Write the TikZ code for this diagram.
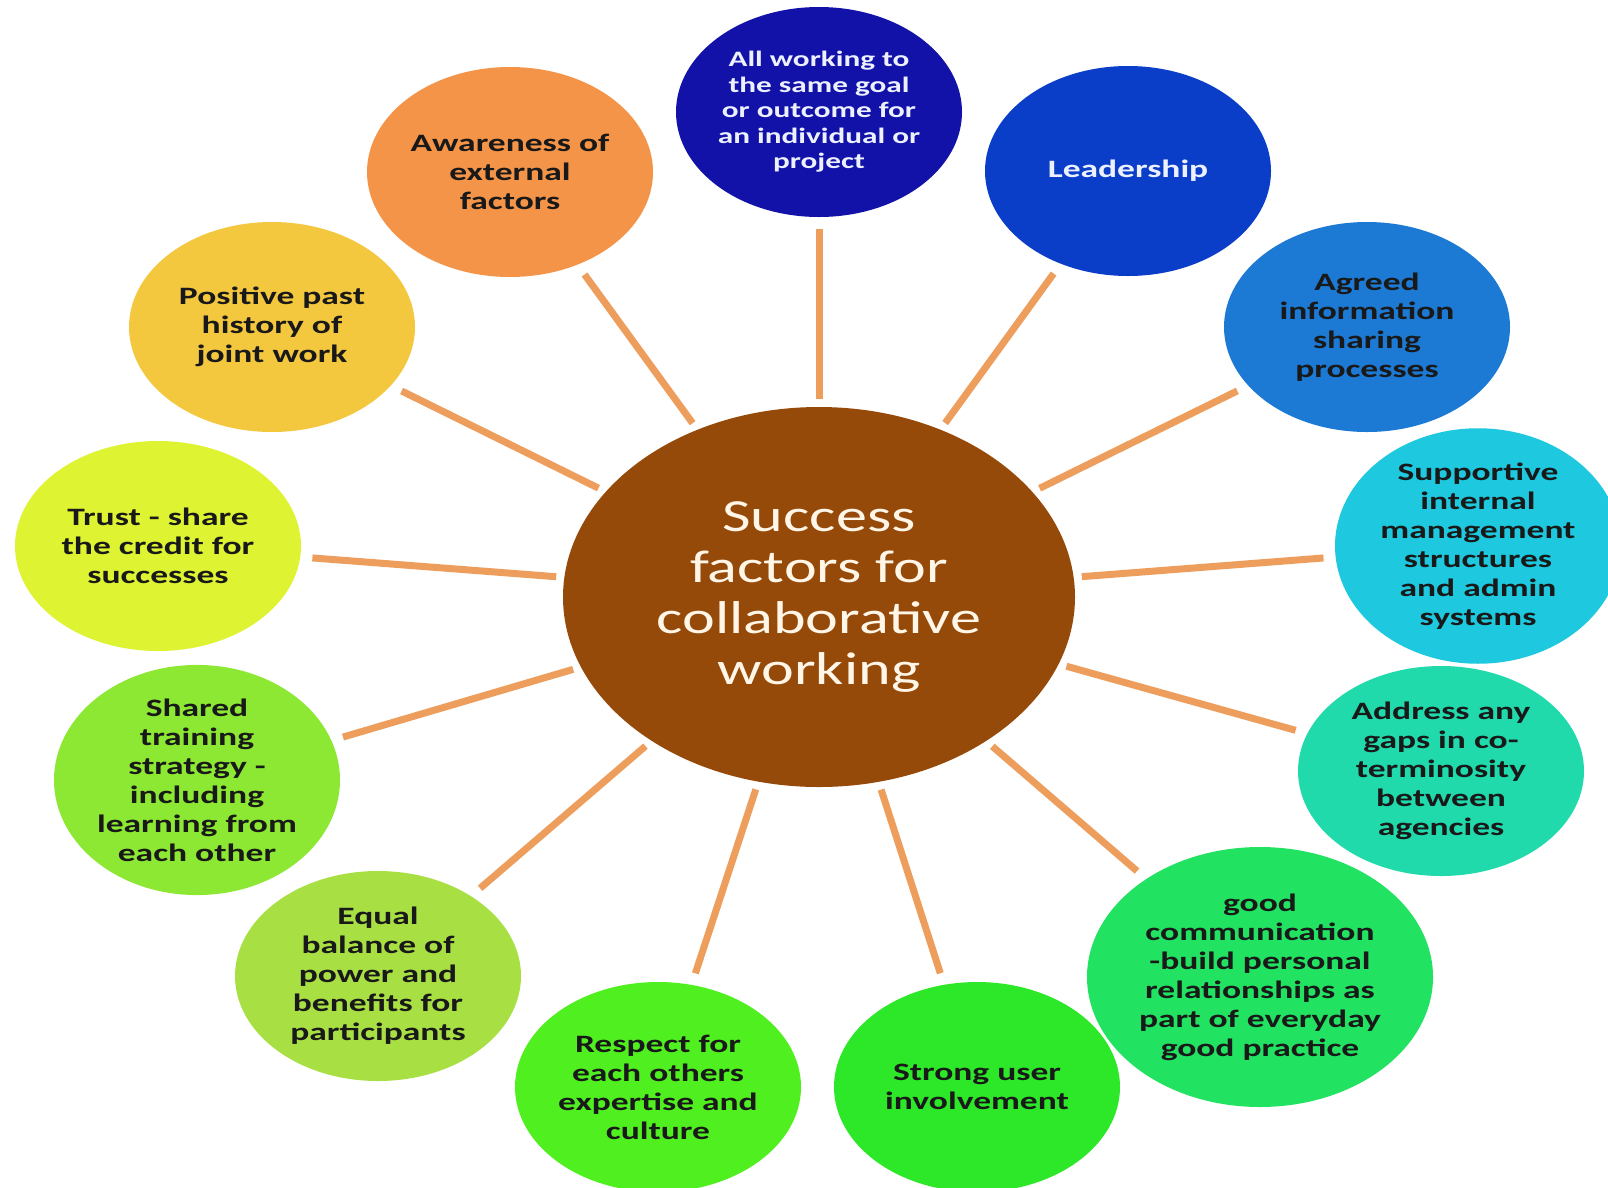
\documentclass[tikz,border=0pt]{standalone}
\usepackage{fontspec}
\setmainfont{Carlito}
\newfontfamily\outerfont{Carlito}[FakeStretch=1.42]
\newfontfamily\hubfont{Carlito}[FakeStretch=1.35]
\usetikzlibrary{shapes.geometric}
\definecolor{cAll}{RGB}{18,18,168}
\definecolor{cLead}{RGB}{10,62,200}
\definecolor{cAgreed}{RGB}{28,122,212}
\definecolor{cSupp}{RGB}{30,200,222}
\definecolor{cAddr}{RGB}{32,218,172}
\definecolor{cGood}{RGB}{34,226,98}
\definecolor{cStrong}{RGB}{44,232,40}
\definecolor{cResp}{RGB}{80,240,32}
\definecolor{cEqual}{RGB}{168,224,68}
\definecolor{cShared}{RGB}{140,232,50}
\definecolor{cTrust}{RGB}{222,244,50}
\definecolor{cPos}{RGB}{244,200,62}
\definecolor{cAware}{RGB}{244,148,72}
\definecolor{hubcol}{RGB}{150,74,10}
\definecolor{hubtext}{RGB}{255,246,232}
\definecolor{spokecol}{RGB}{238,158,92}
\definecolor{txtdark}{RGB}{25,25,25}
\definecolor{txtlight}{RGB}{236,240,255}
\begin{document}
\begin{tikzpicture}[x=1pt,y=-1pt,
  bubble/.style={ellipse, minimum width=286pt, minimum height=210pt, inner sep=0pt,
    align=center, text=txtdark, font=\outerfont\bfseries\fontsize{25}{29}\selectfont},
  spoke/.style={draw=spokecol, line width=7pt, shorten <=8pt, shorten >=12pt}]
\fill[white] (0,0) rectangle (1608,1187);
\useasboundingbox (0,0) rectangle (1608,1187);

\node[ellipse, fill=hubcol, minimum width=512pt, minimum height=380pt, inner sep=0pt,
  align=center, text=hubtext, font=\hubfont\fontsize{46}{51}\selectfont] (hub) at (819,597)
  {Success\\factors for\\collaborative\\working};

\node[bubble, fill=cAll, text=txtlight, font=\outerfont\bfseries\fontsize{22}{25.5}\selectfont] (o1) at (819,112)
  {All working to\\the same goal\\or outcome for\\an individual or\\project};
\node[bubble, fill=cLead, text=txtlight] (o2) at (1128,171) {Leadership};
\node[bubble, fill=cAgreed] (o3) at (1367,327) {Agreed\\information\\sharing\\processes};
\node[bubble, fill=cSupp] (o4) at (1478,546) {Supportive\\internal\\management\\structures\\and admin\\systems};
\node[bubble, fill=cAddr] (o5) at (1441,771) {Address any\\gaps in co-\\terminosity\\between\\agencies};
\node[bubble, fill=cGood, minimum width=346pt, minimum height=260pt] (o6) at (1260,977)
  {good\\communication\\-build personal\\relationships as\\part of everyday\\good practice};
\node[bubble, fill=cStrong] (o7) at (977,1087) {Strong user\\involvement};
\node[bubble, fill=cResp] (o8) at (658,1087) {Respect for\\each others\\expertise and\\culture};
\node[bubble, fill=cEqual] (o9) at (378,976) {Equal\\balance of\\power and\\benefits for\\participants};
\node[bubble, fill=cShared] (o10) at (197,780) {Shared\\training\\strategy -\\including\\learning from\\each other};
\node[bubble, fill=cTrust] (o11) at (158,546) {Trust - share\\the credit for\\successes};
\node[bubble, fill=cPos] (o12) at (272,327) {Positive past\\history of\\joint work};
\node[bubble, fill=cAware] (o13) at (510,172) {Awareness of\\external\\factors};

\foreach \i in {1,...,13} { \draw[spoke] (hub) -- (o\i); }
\end{tikzpicture}
\end{document}
